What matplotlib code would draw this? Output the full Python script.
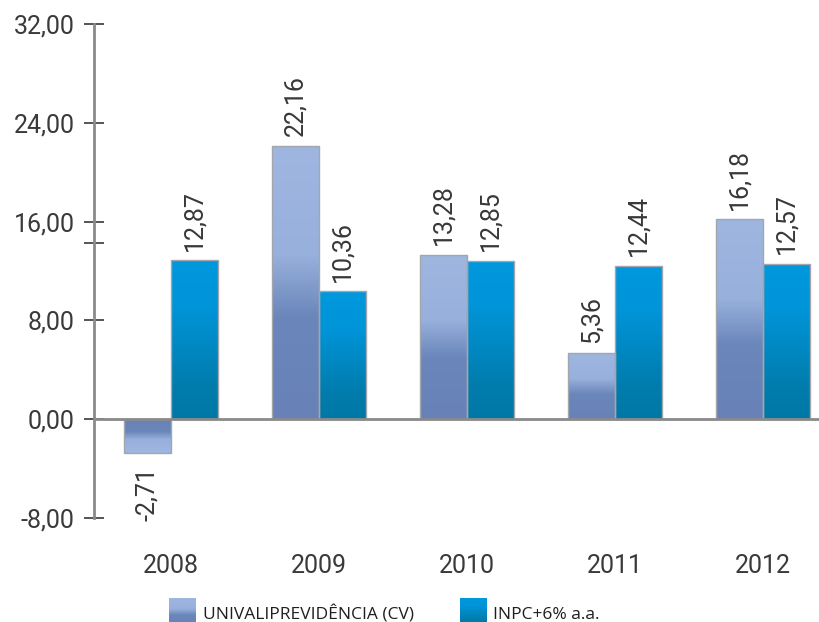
import matplotlib.pyplot as plt
import numpy as np
from matplotlib.colors import LinearSegmentedColormap

years = ["2008", "2009", "2010", "2011", "2012"]
univali = [-2.71, 22.16, 13.28, 5.36, 16.18]
inpc = [12.87, 10.36, 12.85, 12.44, 12.57]
series_names = ["UNIVALIPREVIDÊNCIA (CV)", "INPC+6% a.a."]
y_ticks = [-8, 0, 8, 16, 24, 32]

plt.rcParams["font.family"] = ["Roboto", "DejaVu Sans"]

# gradients run from the baseline (0) to the tip of the bar (1)
univali_cmap = LinearSegmentedColormap.from_list(
    "univali",
    [(0.0, "#6882b7"), (0.37, "#6a86ba"), (0.6, "#98b0dc"), (1.0, "#9eb6e0")],
)
inpc_cmap = LinearSegmentedColormap.from_list(
    "inpc",
    [(0.0, "#0078a6"), (0.2, "#007cac"), (0.7, "#0094d8"), (1.0, "#0098dd")],
)


def fmt(value):
    return f"{value:.2f}".replace(".", ",")


def gradient_bar(axis, x_center, width, value, cmap):
    bar = axis.bar(
        x_center, value, width, facecolor="none", edgecolor="#a3a7ad",
        linewidth=1.0, zorder=3,
    )[0]
    ramp = np.linspace(0, 1, 256).reshape(-1, 1)
    if value >= 0:
        extent = [x_center - width / 2, x_center + width / 2, 0, value]
        image = axis.imshow(ramp, cmap=cmap, extent=extent, origin="lower",
                            aspect="auto", zorder=2)
    else:
        extent = [x_center - width / 2, x_center + width / 2, value, 0]
        image = axis.imshow(ramp, cmap=cmap, extent=extent, origin="upper",
                            aspect="auto", zorder=2)
    image.set_clip_path(bar)
    if value >= 0:
        axis.annotate(fmt(value), (x_center, value), xytext=(0, 7),
                      textcoords="offset points", rotation=90, ha="center",
                      va="bottom", fontsize=18, color="#383838")
    else:
        axis.annotate(fmt(value), (x_center, value), xytext=(0, -10),
                      textcoords="offset points", rotation=90, ha="center",
                      va="top", fontsize=18, color="#383838")


figure = plt.figure(figsize=(8.19, 6.22), dpi=100)
axis = figure.add_axes([0.1148, 0.1672, 0.8852, 0.7942])

bar_width = 0.32
positions = np.arange(len(years))
for index in positions:
    gradient_bar(axis, index - bar_width / 2, bar_width, univali[index], univali_cmap)
    gradient_bar(axis, index + bar_width / 2, bar_width, inpc[index], inpc_cmap)

axis.axhline(0, color="#8a8a8c", linewidth=2.0, zorder=4)

axis.set_xlim(-0.52, 4.378)
axis.set_ylim(-8, 32)
axis.set_yticks(y_ticks)
axis.set_yticklabels([fmt(tick) for tick in y_ticks])
axis.set_yticks([14.3], minor=True)
axis.tick_params(axis="y", which="both", direction="inout", length=14,
                 width=1.4, color="#555558", pad=7, labelsize=18,
                 labelcolor="#3a3a3a")
axis.set_xticks(positions)
axis.set_xticklabels(years)
axis.tick_params(axis="x", length=0, pad=26, labelsize=18, labelcolor="#3a3a3a")

for side in ("top", "right", "bottom"):
    axis.spines[side].set_visible(False)
axis.spines["left"].set_color("#8a8a8c")
axis.spines["left"].set_linewidth(2.0)

# legend with gradient swatches at the bottom
fig_w, fig_h = 819, 622
legend_items = [(169, 203, univali_cmap), (460, 493, inpc_cmap)]
for (patch_x, text_x, cmap), name in zip(legend_items, series_names):
    swatch = figure.add_axes([patch_x / fig_w, -4 / fig_h, 27 / fig_w, 28 / fig_h])
    swatch.imshow(np.linspace(0, 1, 64).reshape(-1, 1), cmap=cmap,
                  origin="lower", aspect="auto")
    swatch.set_axis_off()
    figure.text(text_x / fig_w, 3 / fig_h, name, fontsize=12.5,
                family=["Open Sans", "DejaVu Sans"], weight="medium",
                color="#1e1e1e", ha="left", va="baseline")

figure.savefig("out.png", dpi=100)
